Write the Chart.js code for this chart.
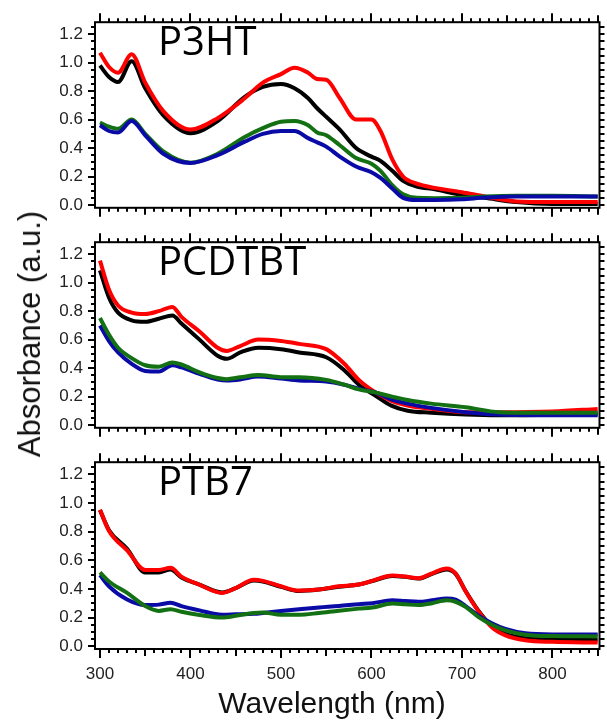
<!DOCTYPE html>
<html><head><meta charset="utf-8">
<script src="https://cdn.jsdelivr.net/npm/chart.js@4.4.0/dist/chart.umd.min.js"></script>
<style>
html,body{margin:0;padding:0;background:#fff;}
#wrap{position:relative;width:607px;height:721px;overflow:hidden;background:#fff;}
canvas{position:absolute;left:0;}
.ytitle{position:absolute;font-family:"Liberation Sans",Arial,sans-serif;font-size:31px;color:#111;left:30px;top:334px;transform:translate(-50%,-50%) rotate(-90deg);white-space:nowrap;}
.xtitle{position:absolute;font-family:"Liberation Sans",Arial,sans-serif;font-size:30px;color:#111;left:332px;top:703px;transform:translate(-50%,-50%);white-space:nowrap;}
</style></head>
<body><div id="wrap">
<canvas id="c1" width="607" height="230" style="top:0px"></canvas>
<canvas id="c2" width="607" height="230" style="top:220px"></canvas>
<canvas id="c3" width="607" height="281" style="top:440px"></canvas>
<div class="ytitle">Absorbance (a.u.)</div>
<div class="xtitle">Wavelength (nm)</div>
</div>
<script>
// ---------- data ----------
const panelNames = ['P3HT', 'PCDTBT', 'PTB7'];
const xTickLabels = [300, 400, 500, 600, 700, 800];
const yTickLabels = [0.0, 0.2, 0.4, 0.6, 0.8, 1.0, 1.2];

// P3HT
const wlP3HT = [300,310,320,335,350,370,400,430,460,480,500,515,530,540,550,565,583,600,610,623,635,650,670,700,725,760,800,850];
const p3htRed   = [1.07,0.97,0.93,1.06,0.86,0.66,0.53,0.61,0.75,0.86,0.92,0.965,0.93,0.885,0.88,0.75,0.60,0.60,0.52,0.32,0.20,0.15,0.12,0.09,0.06,0.025,0.02,0.02];
const p3htBlack = [0.98,0.90,0.865,1.01,0.82,0.63,0.505,0.59,0.76,0.83,0.85,0.82,0.75,0.68,0.62,0.53,0.40,0.34,0.31,0.24,0.17,0.13,0.11,0.07,0.05,0.02,0.007,0.007];
const p3htGreen = [0.58,0.55,0.535,0.60,0.50,0.376,0.297,0.36,0.478,0.54,0.585,0.59,0.56,0.51,0.49,0.42,0.33,0.29,0.24,0.14,0.075,0.05,0.048,0.05,0.06,0.065,0.065,0.06];
const p3htBlue  = [0.56,0.52,0.51,0.59,0.49,0.36,0.295,0.35,0.445,0.50,0.52,0.52,0.47,0.44,0.41,0.34,0.27,0.23,0.19,0.116,0.05,0.035,0.035,0.04,0.052,0.06,0.06,0.06];

// PCDTBT
const wlPCDTBT = [300,310,320,335,350,365,380,390,410,430,440,455,475,500,520,550,570,586,605,622,640,666,704,741,800,850];
const pcdRed   = [1.155,0.95,0.84,0.79,0.78,0.80,0.83,0.76,0.657,0.543,0.52,0.555,0.60,0.59,0.57,0.533,0.43,0.317,0.227,0.17,0.136,0.113,0.09,0.09,0.095,0.113];
const pcdBlack = [1.087,0.895,0.79,0.736,0.725,0.747,0.77,0.713,0.60,0.487,0.465,0.51,0.543,0.533,0.51,0.476,0.385,0.283,0.204,0.136,0.10,0.086,0.073,0.068,0.072,0.08];
const pcdGreen = [0.752,0.634,0.543,0.47,0.42,0.41,0.44,0.425,0.37,0.33,0.322,0.335,0.351,0.336,0.336,0.317,0.283,0.25,0.227,0.20,0.175,0.15,0.125,0.09,0.085,0.086];
const pcdBlue  = [0.70,0.59,0.51,0.43,0.38,0.375,0.42,0.405,0.36,0.32,0.313,0.32,0.34,0.326,0.313,0.306,0.283,0.255,0.227,0.18,0.15,0.12,0.09,0.073,0.068,0.068];

// PTB7
const wlPTB7 = [300,310,330,350,365,378,390,410,435,450,470,480,500,520,542,564,586,601,623,637,652,667,683,693,704,718,733,748,770,800,850];
const ptbRed   = [0.953,0.805,0.669,0.532,0.532,0.547,0.486,0.429,0.372,0.406,0.463,0.456,0.418,0.388,0.395,0.418,0.43,0.456,0.493,0.486,0.474,0.509,0.543,0.509,0.383,0.246,0.132,0.075,0.041,0.03,0.025];
const ptbBlack = [0.95,0.81,0.68,0.515,0.515,0.535,0.48,0.43,0.375,0.405,0.458,0.452,0.415,0.385,0.395,0.415,0.43,0.455,0.49,0.484,0.472,0.505,0.535,0.505,0.385,0.25,0.14,0.085,0.055,0.047,0.045];
const ptbBlue  = [0.497,0.418,0.326,0.287,0.29,0.303,0.28,0.25,0.219,0.222,0.226,0.232,0.246,0.258,0.27,0.28,0.293,0.30,0.32,0.315,0.31,0.32,0.333,0.325,0.28,0.215,0.16,0.12,0.09,0.082,0.082];
const ptbGreen = [0.515,0.452,0.372,0.28,0.246,0.258,0.24,0.218,0.2,0.212,0.232,0.235,0.219,0.219,0.232,0.248,0.262,0.27,0.297,0.292,0.287,0.30,0.32,0.31,0.274,0.205,0.15,0.11,0.08,0.07,0.068];

// ---------- styling ----------
const COL = {red:'#ff0000', black:'#000000', green:'#137013', blue:'#0a0aa6'};
const tickFont = {family:'"Liberation Sans", Arial, sans-serif', size:17};

function pts(xs, ys){ return xs.map((x,i)=>({x:x, y:ys[i]})); }
function ds(xs, ys, color){
  return {data:pts(xs,ys), borderColor:color, backgroundColor:color, borderWidth:4,
          pointRadius:0, cubicInterpolationMode:'monotone', fill:false};
}

const framePlugin = {
  id:'frameTicks',
  afterDraw(chart, args, opts){
    const ctx = chart.ctx, a = chart.chartArea, x = chart.scales.x, y = chart.scales.y;
    ctx.save();
    ctx.strokeStyle = '#000'; ctx.lineWidth = 2;
    ctx.beginPath();
    for (let v = 300; v <= 850; v += 10){
      const px = Math.round(x.getPixelForValue(v));
      const len = v % 100 === 0 ? 9 : (v % 50 === 0 ? 7 : 4);
      ctx.moveTo(px, a.top); ctx.lineTo(px, a.top - len);
      ctx.moveTo(px, a.bottom); ctx.lineTo(px, a.bottom + len);
    }
    for (let k = 0; k <= 25; k++){
      const py = Math.round(y.getPixelForValue(k * 0.05));
      const len = k % 4 === 0 ? 7 : 4;
      ctx.moveTo(a.left, py); ctx.lineTo(a.left - len, py);
      ctx.moveTo(a.right, py); ctx.lineTo(a.right + 5, py);
    }
    ctx.stroke();
    ctx.strokeRect(a.left, a.top, a.right - a.left, a.bottom - a.top);
    ctx.fillStyle = '#000';
    ctx.font = '40px "Open Sans", "DejaVu Sans", sans-serif';
    ctx.textBaseline = 'alphabetic'; ctx.textAlign = 'left';
    ctx.fillText(opts.label, a.left + 63, a.top + 33);
    ctx.restore();
  }
};

function makeChart(id, name, sets, showX){
  return new Chart(document.getElementById(id), {
    type:'line',
    data:{datasets:sets},
    plugins:[framePlugin],
    options:{
      responsive:false, animation:false, devicePixelRatio:1,
      layout:{padding:{left:0, right:7.5, top:19, bottom: showX ? 0 : 21}},
      plugins:{legend:{display:false}, tooltip:{enabled:false}, frameTicks:{label:name}},
      scales:{
        x:{type:'linear', min:294.5, max:852, display:showX,
           afterBuildTicks:s=>{ s.ticks = xTickLabels.map(v=>({value:v})); },
           afterFit:s=>{ s.height = showX ? 72 : 0; },
           grid:{display:false, drawTicks:false, drawOnChartArea:false},
           border:{display:false},
           ticks:{font:tickFont, color:'#222', padding:15, maxRotation:0, autoSkip:false,
                  callback:v=>String(v)}},
        y:{type:'linear', min:-0.02, max:1.285,
           afterBuildTicks:s=>{ s.ticks = yTickLabels.map(v=>({value:v})); },
           afterFit:s=>{ s.width = 95; },
           grid:{display:false, drawTicks:false, drawOnChartArea:false},
           border:{display:false},
           ticks:{font:tickFont, color:'#222', padding:12, autoSkip:false,
                  callback:v=>Number(v).toFixed(1)}}
      }
    }
  });
}

makeChart('c1', panelNames[0], [
  ds(wlP3HT, p3htBlue, COL.blue), ds(wlP3HT, p3htGreen, COL.green),
  ds(wlP3HT, p3htRed, COL.red), ds(wlP3HT, p3htBlack, COL.black)], false);
makeChart('c2', panelNames[1], [
  ds(wlPCDTBT, pcdGreen, COL.green), ds(wlPCDTBT, pcdBlue, COL.blue),
  ds(wlPCDTBT, pcdRed, COL.red), ds(wlPCDTBT, pcdBlack, COL.black)], false);
makeChart('c3', panelNames[2], [
  ds(wlPTB7, ptbGreen, COL.green), ds(wlPTB7, ptbBlue, COL.blue),
  ds(wlPTB7, ptbRed, COL.red), ds(wlPTB7, ptbBlack, COL.black)], true);
</script>
</body></html>
